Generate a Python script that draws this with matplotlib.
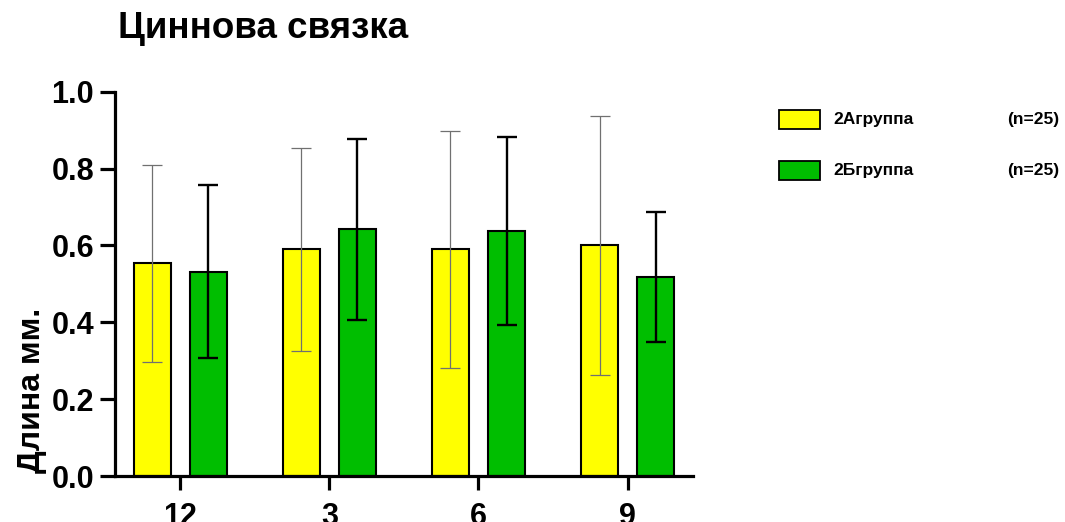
import matplotlib
matplotlib.use("Agg")
import matplotlib.pyplot as plt
import numpy as np
from matplotlib.patches import Rectangle

plt.rcParams['font.family'] = ['Liberation Sans', 'DejaVu Sans']

# Clock positions and group statistics (mean ± SD, mm)
categories = ['12', '3', '6', '9']
mean_2a = [0.553, 0.590, 0.590, 0.601]
sd_2a = [0.257, 0.264, 0.308, 0.337]
mean_2b = [0.532, 0.642, 0.638, 0.519]
sd_2b = [0.224, 0.235, 0.244, 0.169]
group_labels = ['2Агруппа', '2Бгруппа']
group_n = ['(n=25)', '(n=25)']

yellow = '#FFFF00'
green = '#00BE00'

fig = plt.figure(figsize=(10.65, 5.22), dpi=100)
ax = fig.add_axes([0.108, 0.0881, 0.543, 0.7362])

x = np.arange(len(categories))
w = 0.248
off = 0.188

ax.bar(x - off, mean_2a, width=w, color=yellow, edgecolor='black', linewidth=1.5, zorder=2)
ax.bar(x + off, mean_2b, width=w, color=green, edgecolor='black', linewidth=1.5, zorder=2)
ax.errorbar(x - off, mean_2a, yerr=sd_2a, fmt='none', ecolor='#707070',
            elinewidth=0.9, capsize=7, capthick=0.9, zorder=3)
ax.errorbar(x + off, mean_2b, yerr=sd_2b, fmt='none', ecolor='black',
            elinewidth=1.7, capsize=7, capthick=1.7, zorder=3)

ax.set_xlim(-0.436, 3.44)
ax.set_ylim(0, 1.0)
ax.set_yticks([0.0, 0.2, 0.4, 0.6, 0.8, 1.0])
ax.set_yticklabels(['0.0', '0.2', '0.4', '0.6', '0.8', '1.0'])
ax.set_xticks(x)
ax.set_xticklabels(categories)

for s in ['top', 'right']:
    ax.spines[s].set_visible(False)
for s in ['left', 'bottom']:
    ax.spines[s].set_linewidth(2.3)
ax.tick_params(axis='both', width=2.3, labelsize=22)
ax.tick_params(axis='y', length=11, pad=4)
ax.tick_params(axis='x', length=10, pad=9)
for lbl in ax.get_xticklabels() + ax.get_yticklabels():
    lbl.set_fontweight('bold')

ax.set_ylabel('Длина мм.', fontsize=23, fontweight='bold')
ax.yaxis.set_label_coords(-0.1176, 0.224)
fig.text(118 / 1065, 1 - 38 / 522, 'Циннова связка', fontsize=26.5, fontweight='bold',
         ha='left', va='baseline')

# Legend drawn in figure coordinates
W, H = 1065, 522
rows_y = [119.5, 171]
colors = [yellow, green]
for yy, col, label, n in zip(rows_y, colors, group_labels, group_n):
    fig.patches.append(Rectangle((779 / W, 1 - (yy + 9.5) / H), 41 / W, 19 / H,
                                 transform=fig.transFigure, facecolor=col,
                                 edgecolor='black', linewidth=1.3))
    fig.text(833 / W, 1 - yy / H, label, fontsize=12.5, fontweight='bold',
             ha='left', va='center')
    fig.text(1007 / W, 1 - yy / H, n, fontsize=12.5, fontweight='bold',
             ha='left', va='center')

fig.savefig('out.png', dpi=100)
